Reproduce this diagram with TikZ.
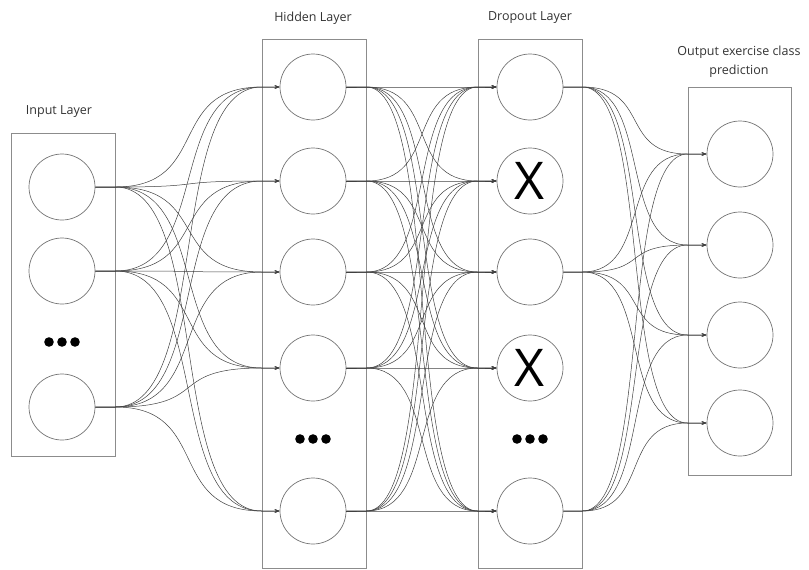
\documentclass[tikz,border=0pt]{standalone}
\usepackage{fontspec}
\setmainfont{Open Sans}
\usetikzlibrary{arrows.meta}
\definecolor{boxgray}{gray}{0.55}
\definecolor{nodegray}{gray}{0.45}
\definecolor{wiregray}{gray}{0.25}
\tikzset{
  layerbox/.style={draw=boxgray, line width=0.9pt, inner sep=0pt},
  neuron/.style={circle, draw=nodegray, line width=0.7pt, minimum size=66pt, inner sep=0pt},
  conn/.style={draw=wiregray, line width=0.5pt, -{Stealth[length=5pt,width=3.5pt]}},
  lbl/.style={font=\fontsize{12.5}{18.5}\selectfont, text=black!80, align=center},
  cross/.style={font=\fontsize{52}{52}\selectfont}
}
\begin{document}
\begin{tikzpicture}[x=1pt, y=-1pt]
\useasboundingbox (0,0) rectangle (809,570);
% layer frames
\node[layerbox, minimum width=104pt, minimum height=323pt] (bI) at (63,294.5) {};
\node[layerbox, minimum width=104pt, minimum height=529pt] (bH) at (314,304) {};
\node[layerbox, minimum width=104pt, minimum height=529pt] (bD) at (530,304) {};
\node[layerbox, minimum width=103pt, minimum height=388pt] (bO) at (739.5,281.5) {};
% titles
\node[lbl] (tI) at (59,112) {Input Layer};
\node[lbl] (tH) at (313,18) {Hidden Layer};
\node[lbl] (tD) at (530,18) {Dropout Layer};
\node[lbl] (tO) at (739,62) {Output exercise class\\prediction};
% input neurons
\node[neuron] (i1) at (62,187) {};
\node[neuron] (i2) at (62,271) {};
\node[neuron] (i3) at (62,407) {};
% hidden neurons
\foreach \n/\y in {1/87,2/181,3/272,4/368,5/511}
  \node[neuron] (h\n) at (313,\y) {};
% dropout neurons (2 and 4 are dropped)
\node[neuron] (d1) at (530,87) {};
\node[neuron, cross] (d2) at (530,181) {X};
\node[neuron] (d3) at (530,272) {};
\node[neuron, cross] (d4) at (530,368) {X};
\node[neuron] (d5) at (530,511) {};
% output neurons
\foreach \n/\y in {1/154,2/245,3/335,4/423}
  \node[neuron] (o\n) at (740,\y) {};
% ellipsis markers
\foreach \c/\x/\y in {eI/62/342, eH/313/439, eD/530/439}{
  \coordinate (\c) at (\x,\y);
  \foreach \k in {-13,0,13}
    \fill ([xshift=\k pt]\c) circle (4.8pt);
}
% input -> hidden
\foreach \a in {1,2,3}
  \foreach \b in {1,...,5}
    \draw[conn] (i\a.east) -- (i\a.east -| bI.east)
      .. controls +(96,0) and +(-96,0) .. (h\b.west -| bH.west) -- (h\b.west);
% hidden -> dropout
\foreach \a in {1,...,5}
  \foreach \b in {1,...,5}
    \draw[conn] (h\a.east) -- (h\a.east -| bH.east)
      .. controls +(73,0) and +(-73,0) .. (d\b.west -| bD.west) -- (d\b.west);
% dropout (kept units) -> output
\foreach \a in {1,3,5}
  \foreach \b in {1,...,4}
    \draw[conn] (d\a.east) -- (d\a.east -| bD.east)
      .. controls +(69,0) and +(-69,0) .. (o\b.west -| bO.west) -- (o\b.west);
\end{tikzpicture}
\end{document}
